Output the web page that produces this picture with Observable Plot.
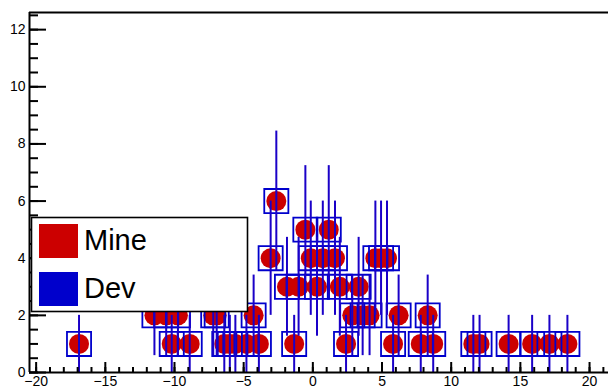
<!DOCTYPE html>
<html>
<head>
<meta charset="utf-8">
<script src="https://cdn.jsdelivr.net/npm/d3@7"></script>
<script src="https://cdn.jsdelivr.net/npm/@observablehq/plot@0.6"></script>
<style>
  html, body { margin: 0; padding: 0; background: #fff; }
  #wrap { position: relative; width: 608px; height: 392px; overflow: hidden; }
  #wrap svg { position: absolute; left: 0; top: 0; }
</style>
</head>
<body>
<div id="wrap"></div>
<script>
// ---- data ----
const xs1 = [-16.9, -10.2, -8.9, -6.4, -6.0, -5.6, -4.8, -3.9, -1.35, 2.4, 5.8, 7.8, 8.7, 11.6, 12.05, 14.15, 15.85, 17.1, 18.4];
const xs2 = [-11.45, -10.6, -9.75, -7.2, -6.95, -4.28, 2.85, 3.6, 4.1, 6.2, 8.3];
const xs3 = [-1.87, -1.03, 0.3, 1.95, 3.31];
const xs4 = [-3.05, -0.15, 0.72, 1.6, 4.52, 4.93, 5.36];
const xs5 = [-0.54, 1.15];
const xs6 = [-2.64];
const countLevels = [1, 2, 3, 4, 5, 6];
const errByCount = [1.0, 1.41, 1.73, 2.0, 2.24, 2.45];
const xTicksMajor = [-20, -15, -10, -5, 0, 5, 10, 15, 20];
const xTicksMinor = d3.range(-20, 22, 1);
const yTicksMajor = [0, 2, 4, 6, 8, 10, 12];
const yTicksMinor = d3.range(0, 12.6, 0.5);
const legendNames = ["Mine", "Dev"];
const legendColors = ["#cc0000", "#0000cc"];

const groups = [xs1, xs2, xs3, xs4, xs5, xs6];
const mine = [];
groups.forEach((arr, i) => arr.forEach(x => mine.push({x, y: countLevels[i], e: errByCount[i]})));
const dev = mine.map(d => ({...d}));

const W = 608, H = 392;
const mL = 29, mR = 0, mT = 12, mB = 20;
const frameW = W - mL - mR, frameH = H - mT - mB;

const chart = Plot.plot({
  width: W, height: H,
  marginLeft: mL, marginRight: mR, marginTop: mT, marginBottom: mB,
  x: {domain: [-20.48, 21.37], axis: null},
  y: {domain: [0, 12.6], axis: null},
  style: {fontFamily: "'Liberation Sans', Arial, Helvetica, sans-serif", fontSize: "14px", background: "#fff", color: "#000"},
  marks: [
    Plot.dot(mine, {x: "x", y: "y", r: 10, fill: legendColors[0], stroke: "none"}),
    Plot.dot(dev, {x: "x", y: "y", symbol: "square", r: 13.6, fill: "none", stroke: legendColors[1], strokeWidth: 1.8}),
    Plot.ruleX(dev, {x: "x", y1: d => d.y - d.e, y2: d => d.y + d.e, stroke: "#1a00c8", strokeWidth: 2}),
    // frame lines
    Plot.ruleY([12.6], {stroke: "#000", strokeWidth: 2}),
    Plot.ruleY([0], {stroke: "#000", strokeWidth: 2}),
    Plot.ruleX([-20.48], {stroke: "#000", strokeWidth: 2}),
    // ticks (inward)
    Plot.tickX(xTicksMinor, {x: d => d, stroke: "#000", strokeWidth: 2, insetTop: frameH - 5}),
    Plot.tickX(xTicksMajor, {x: d => d, stroke: "#000", strokeWidth: 2, insetTop: frameH - 10}),
    Plot.tickY(yTicksMinor, {y: d => d, stroke: "#000", strokeWidth: 2, insetRight: frameW - 9}),
    Plot.tickY(yTicksMajor, {y: d => d, stroke: "#000", strokeWidth: 2, insetRight: frameW - 17}),
    Plot.axisX({ticks: xTicksMajor, tickSize: 0, tickPadding: 4, label: null, fontSize: 14}),
    Plot.axisY({ticks: yTicksMajor, tickSize: 0, tickPadding: 4, label: null, fontSize: 14})
  ]
});
document.getElementById("wrap").appendChild(chart);

// legend box overlay
const leg = d3.select("#wrap").append("svg")
  .attr("width", W).attr("height", H)
  .style("pointer-events", "none");
leg.append("rect").attr("x", 31.5).attr("y", 217.5).attr("width", 216).attr("height", 94)
  .attr("fill", "#fff").attr("stroke", "#000").attr("stroke-width", 1.6);
legendNames.forEach((name, i) => {
  leg.append("rect").attr("x", 39).attr("y", 224 + i * 48).attr("width", 39).attr("height", 34)
    .attr("fill", legendColors[i]);
  leg.append("text").attr("x", 84).attr("y", 250 + i * 48)
    .attr("font-family", "'Liberation Sans', Arial, Helvetica, sans-serif")
    .attr("font-size", 29).attr("fill", "#000").text(name);
});
</script>
</body>
</html>
